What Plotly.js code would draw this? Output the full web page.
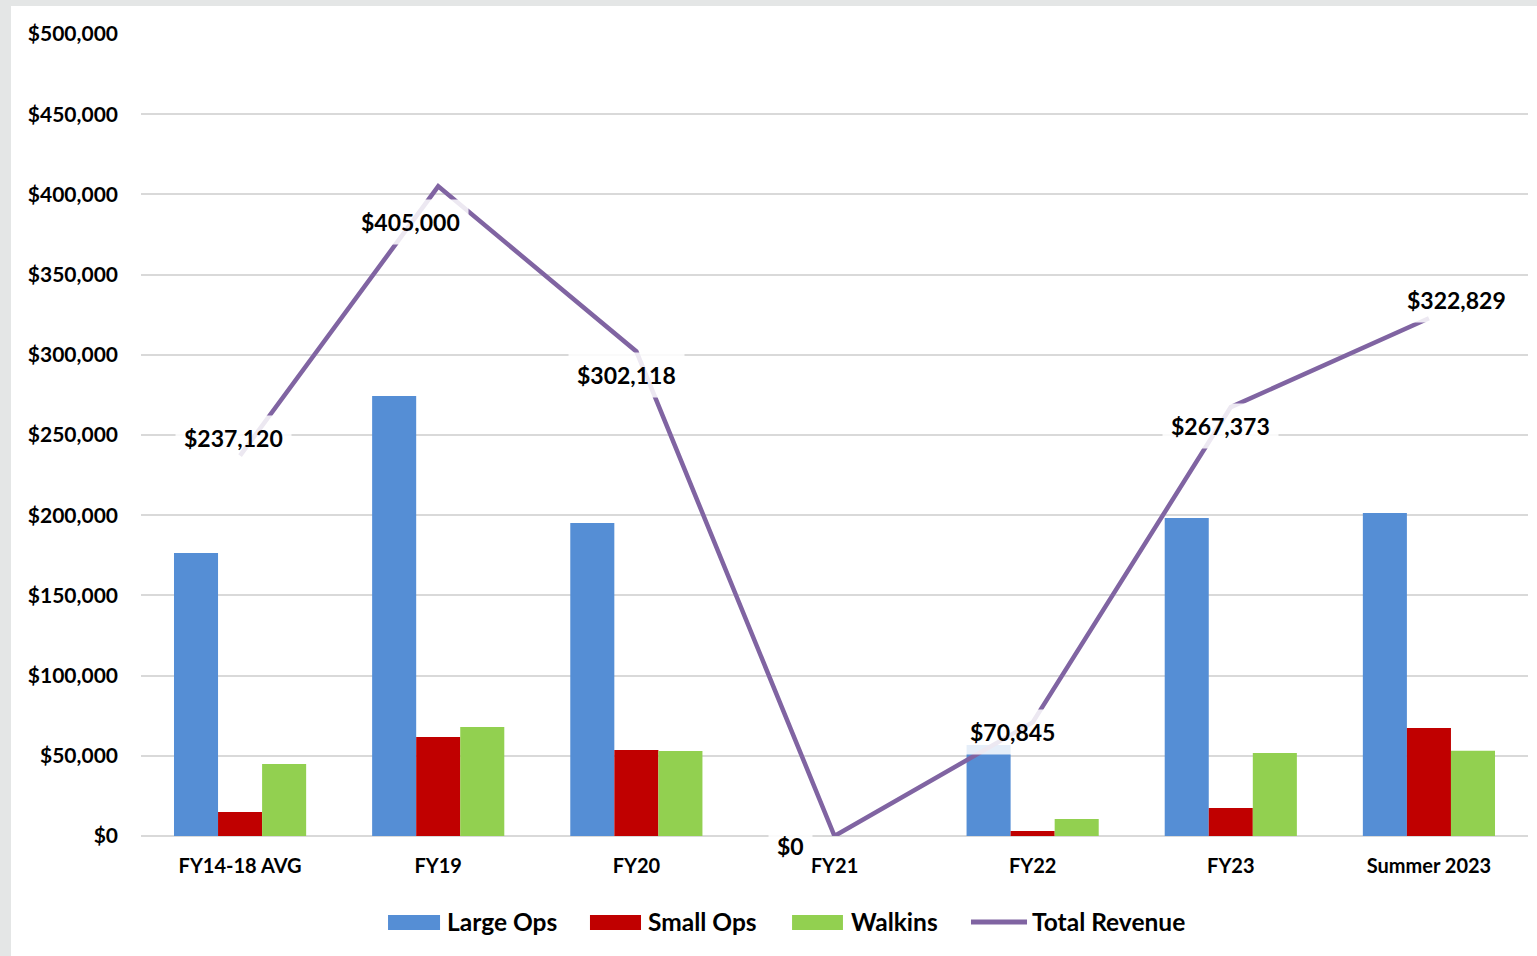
<!DOCTYPE html>
<html>
<head>
<meta charset="utf-8">
<script src="https://cdn.plot.ly/plotly-3.0.1.min.js"></script>
<style>
  html, body { margin: 0; padding: 0; background: #e4e6e6; width: 1537px; height: 956px; overflow: hidden; }
  #chart { position: absolute; left: 11px; top: 6px; width: 1526px; height: 950px; background: #ffffff; }
</style>
</head>
<body>
<div id="chart"></div>
<script>
const categories = ["FY14-18 AVG", "FY19", "FY20", "FY21", "FY22", "FY23", "Summer 2023"];
const largeOps = [176500, 274300, 195200, 0, 56700, 198300, 201400];
const smallOps = [15000, 61700, 53600, 0, 3100, 17500, 67300];
const walkins = [44900, 68000, 53000, 0, 10600, 51700, 53100];
const totalRevenue = [237120, 405000, 302118, 0, 70845, 267373, 322829];
const totalLabels = ["$237,120", "$405,000", "$302,118", "$0", "$70,845", "$267,373", "$322,829"];
const yTickVals = [0, 50000, 100000, 150000, 200000, 250000, 300000, 350000, 400000, 450000, 500000];
const yTickText = ["$0", "$50,000", "$100,000", "$150,000", "$200,000", "$250,000", "$300,000", "$350,000", "$400,000", "$450,000", "$500,000"];
const seriesNames = ["Large Ops", "Small Ops", "Walkins", "Total Revenue"];
const seriesColors = ["#558ed5", "#c00000", "#92d050", "#8064a2"];

const labelShiftX = [-7, -28, -10, -44, -20, -10, 28];
const labelShiftY = [18, -36, -24, -10, -10, -19, 18];

const FONT = "Lato, 'Open Sans', sans-serif";

const traces = [
  { type: "bar", name: seriesNames[0], x: categories, y: largeOps, marker: { color: seriesColors[0] } },
  { type: "bar", name: seriesNames[1], x: categories, y: smallOps, marker: { color: seriesColors[1] } },
  { type: "bar", name: seriesNames[2], x: categories, y: walkins, marker: { color: seriesColors[2] } },
  { type: "scatter", mode: "lines", name: seriesNames[3], x: categories, y: totalRevenue,
    line: { color: seriesColors[3], width: 4.5 } }
];

const annotations = categories.map((c, i) => ({
  x: c, y: totalRevenue[i], xref: "x", yref: "y",
  text: totalLabels[i], showarrow: false,
  xshift: labelShiftX[i], yshift: labelShiftY[i],
  font: { family: FONT, size: 23, color: "#000000", weight: "bold" },
  bgcolor: "rgba(255,255,255,0.85)", borderpad: 8
}));

// Custom legend (paper coordinates)
const legendSwatchX = [[0.1781, 0.2156], [0.3237, 0.3605], [0.4694, 0.5061], [0.5984, 0.6388]];
const legendTextX = [0.2192, 0.3641, 0.5105, 0.6410];
const legendY = -0.1072;
const shapes = [];
for (let i = 0; i < 4; i++) {
  if (i < 3) {
    shapes.push({ type: "rect", xref: "paper", yref: "paper",
      x0: legendSwatchX[i][0], x1: legendSwatchX[i][1], y0: -0.1172, y1: -0.0985,
      fillcolor: seriesColors[i], line: { width: 0 } });
  } else {
    shapes.push({ type: "line", xref: "paper", yref: "paper",
      x0: legendSwatchX[i][0], x1: legendSwatchX[i][1], y0: legendY, y1: legendY,
      line: { color: seriesColors[i], width: 5 } });
  }
  annotations.push({ xref: "paper", yref: "paper", x: legendTextX[i], y: legendY,
    xanchor: "left", yanchor: "middle", showarrow: false, text: seriesNames[i],
    font: { family: FONT, size: 24.5, color: "#000000", weight: "bold" } });
}

const layout = {
  width: 1526, height: 950,
  paper_bgcolor: "#ffffff", plot_bgcolor: "#ffffff",
  margin: { l: 130, r: 9, t: 28, b: 120 },
  barmode: "group", bargap: 0.333, bargroupgap: 0,
  showlegend: false,
  font: { family: FONT, color: "#000000" },
  xaxis: { type: "category", showgrid: false, zeroline: false, showline: false, ticks: "",
           tickfont: { family: FONT, size: 20, color: "#000000", weight: "bold" },
           ticklabelstandoff: 16 },
  yaxis: { range: [0, 500000], tickvals: yTickVals, ticktext: yTickText,
           showgrid: true, gridcolor: "#d9d9d9", gridwidth: 2,
           zeroline: true, zerolinecolor: "#d9d9d9", zerolinewidth: 2,
           showline: false, ticks: "",
           tickfont: { family: FONT, size: 21, color: "#000000", weight: "bold" },
           ticklabelstandoff: 22 },
  annotations: annotations,
  shapes: shapes,
  hovermode: false
};

Plotly.newPlot("chart", traces, layout, { displayModeBar: false, staticPlot: true });
</script>
</body>
</html>
